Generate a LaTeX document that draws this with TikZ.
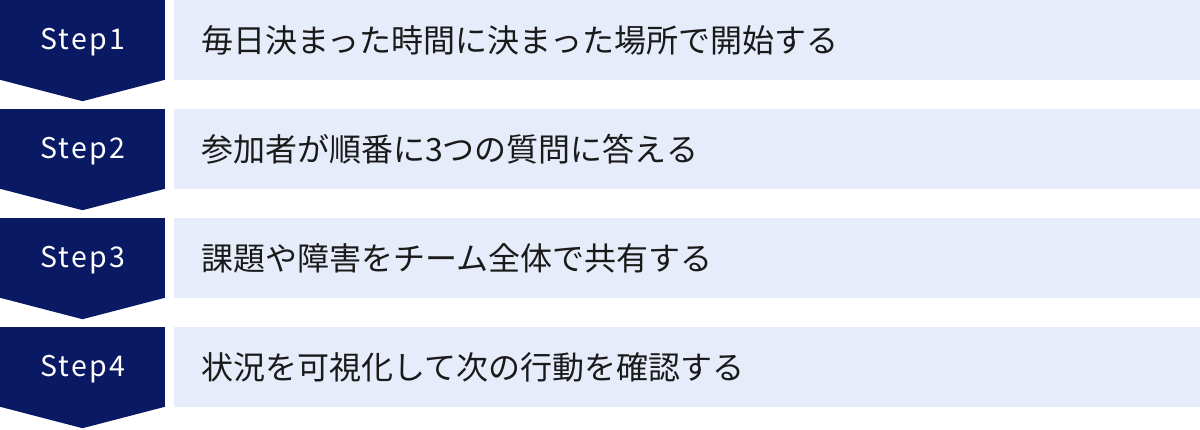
\documentclass[tikz,border=0pt]{standalone}
\usepackage{fontspec}
\setmainfont{Noto Sans CJK JP}
\newfontfamily\stepfont[LetterSpace=8]{Noto Sans CJK JP}
\usepackage{tikz}
\usepackage{color}
\definecolor{Navy-1}{RGB}{10,25,99}
\definecolor{Pale-1}{RGB}{230,236,249}
\definecolor{Ink-1}{RGB}{26,26,26}

\begin{document}
\begin{tikzpicture}[x=1pt, y=-1pt]
  \useasboundingbox (0,0) rectangle (1200,429);

  \node[fill=Navy-1, inner sep=0pt, minimum height=80pt, minimum width=165pt] (step1) at (82.5,  40) {};
  \node[fill=Navy-1, inner sep=0pt, minimum height=80pt, minimum width=165pt] (step2) at (82.5, 149) {};
  \node[fill=Navy-1, inner sep=0pt, minimum height=80pt, minimum width=165pt] (step3) at (82.5, 258) {};
  \node[fill=Navy-1, inner sep=0pt, minimum height=80pt, minimum width=165pt] (step4) at (82.5, 367) {};

  \fill[Navy-1] ([yshift=0.5pt]step1.south west) -- ([yshift=0.5pt]step1.south east) -- ([yshift=-21pt]step1.south) -- cycle;
  \fill[Navy-1] ([yshift=0.5pt]step2.south west) -- ([yshift=0.5pt]step2.south east) -- ([yshift=-21pt]step2.south) -- cycle;
  \fill[Navy-1] ([yshift=0.5pt]step3.south west) -- ([yshift=0.5pt]step3.south east) -- ([yshift=-21pt]step3.south) -- cycle;
  \fill[Navy-1] ([yshift=0.5pt]step4.south west) -- ([yshift=0.5pt]step4.south east) -- ([yshift=-21pt]step4.south) -- cycle;

  \node[text=white, font=\stepfont\fontsize{28.5}{34}\selectfont] (label1) at ([yshift=-2.5pt]step1.center) {Step1};
  \node[text=white, font=\stepfont\fontsize{28.5}{34}\selectfont] (label2) at ([yshift=-2.5pt]step2.center) {Step2};
  \node[text=white, font=\stepfont\fontsize{28.5}{34}\selectfont] (label3) at ([yshift=-2.5pt]step3.center) {Step3};
  \node[text=white, font=\stepfont\fontsize{28.5}{34}\selectfont] (label4) at ([yshift=-2.5pt]step4.center) {Step4};

  \node[fill=Pale-1, inner xsep=27pt, inner ysep=0pt, minimum height=80pt, text width=972pt, align=left, anchor=north west, text=Ink-1, font=\fontsize{32}{38}\selectfont] (task1) at (174,   0) {毎日決まった時間に決まった場所で開始する};
  \node[fill=Pale-1, inner xsep=27pt, inner ysep=0pt, minimum height=80pt, text width=972pt, align=left, anchor=north west, text=Ink-1, font=\fontsize{32}{38}\selectfont] (task2) at (174, 109) {参加者が順番に3つの質問に答える};
  \node[fill=Pale-1, inner xsep=27pt, inner ysep=0pt, minimum height=80pt, text width=972pt, align=left, anchor=north west, text=Ink-1, font=\fontsize{32}{38}\selectfont] (task3) at (174, 218) {課題や障害をチーム全体で共有する};
  \node[fill=Pale-1, inner xsep=27pt, inner ysep=0pt, minimum height=80pt, text width=972pt, align=left, anchor=north west, text=Ink-1, font=\fontsize{32}{38}\selectfont] (task4) at (174, 327) {状況を可視化して次の行動を確認する};
\end{tikzpicture}
\end{document}
